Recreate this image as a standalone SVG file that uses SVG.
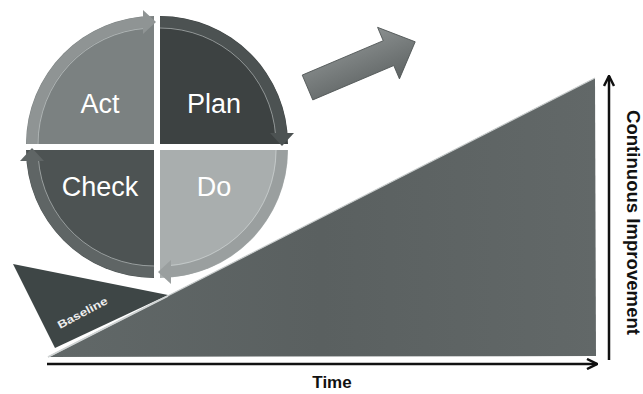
<svg xmlns="http://www.w3.org/2000/svg" width="643" height="394" viewBox="0 0 643 394">
  <style>
    .lbl { font-family: "Liberation Sans", Arial, sans-serif; font-size: 27px; fill: #ffffff; text-anchor: middle; }
    .axis { font-family: "Liberation Sans", Arial, sans-serif; font-weight: bold; fill: #111111; }
    .ring { fill: none; stroke-width: 11; }
    .rim { fill: none; stroke: #d8dcdc; stroke-width: 0.8; opacity: 0.7; }
    .axisline { stroke: #111111; stroke-width: 2.5; fill: none; }
  </style>
  <defs>
    <linearGradient id="triGrad" x1="0" y1="0" x2="1" y2="0">
      <stop offset="0" stop-color="#616868"/>
      <stop offset="0.5" stop-color="#5a6060"/>
      <stop offset="1" stop-color="#626868"/>
    </linearGradient>
    <linearGradient id="arrowGrad" x1="0" y1="0" x2="0" y2="1">
      <stop offset="0" stop-color="#8a8f8f"/>
      <stop offset="1" stop-color="#5f6464"/>
    </linearGradient>
    <marker id="ah" viewBox="0 0 10 10" refX="9" refY="5" markerWidth="5" markerHeight="5" orient="auto" markerUnits="strokeWidth">
      <path d="M1,1 L9,5 L1,9" fill="none" stroke="#111111" stroke-width="2"/>
    </marker>
  </defs>

  <rect width="643" height="394" fill="#ffffff"/>

  <!-- Big improvement triangle -->
  <g id="improvement">
    <polygon points="48,357 595,78 596,356" fill="url(#triGrad)"/>
    <line x1="48" y1="357" x2="595" y2="78" stroke="#c8cccc" stroke-width="1.2"/>
  </g>

  <!-- Baseline triangle -->
  <g id="baseline">
    <polygon points="13,264 168,295 55,348" fill="#3e4646"/>
    <line x1="48" y1="357" x2="168" y2="296" stroke="#d0d4d4" stroke-width="1.5"/>
    <text x="0" y="0" transform="translate(60,329) rotate(-28)" font-family="'Liberation Sans', Arial, sans-serif" font-weight="bold" font-size="11" fill="#eeeeee" textLength="55" lengthAdjust="spacingAndGlyphs">Baseline</text>
  </g>

  <!-- PDCA cycle -->
  <g id="act">
    <g transform="translate(157,147) rotate(0) translate(-3,-3)">
      <path d="M0,0 L-128,0 A128,128 0 0 1 0,-128 Z" fill="#7b8181"/>
      <path class="ring" d="M-122,0 A122,122 0 0 1 -9,-121.7" stroke="#8f9494"/>
      <path class="rim" d="M-116,0 A116,116 0 0 1 -8,-115.7"/>
      <polygon points="-11,-134 2,-122 -11,-110" fill="#8f9494"/>
    </g>
    <text class="lbl" x="100" y="113">Act</text>
  </g>
  <g id="plan">
    <g transform="translate(157,147) rotate(90) translate(-3,-3)">
      <path d="M0,0 L-128,0 A128,128 0 0 1 0,-128 Z" fill="#3d4242"/>
      <path class="ring" d="M-122,0 A122,122 0 0 1 -9,-121.7" stroke="#4c5252"/>
      <path class="rim" d="M-116,0 A116,116 0 0 1 -8,-115.7"/>
      <polygon points="-11,-134 2,-122 -11,-110" fill="#4c5252"/>
    </g>
    <text class="lbl" x="214" y="113">Plan</text>
  </g>
  <g id="do">
    <g transform="translate(157,147) rotate(180) translate(-3,-3)">
      <path d="M0,0 L-128,0 A128,128 0 0 1 0,-128 Z" fill="#a9aeae"/>
      <path class="ring" d="M-122,0 A122,122 0 0 1 -9,-121.7" stroke="#9a9f9f"/>
      <path class="rim" d="M-116,0 A116,116 0 0 1 -8,-115.7"/>
      <polygon points="-11,-134 2,-122 -11,-110" fill="#9a9f9f"/>
    </g>
    <text class="lbl" x="214" y="196">Do</text>
  </g>
  <g id="check">
    <g transform="translate(157,147) rotate(270) translate(-3,-3)">
      <path d="M0,0 L-128,0 A128,128 0 0 1 0,-128 Z" fill="#4d5353"/>
      <path class="ring" d="M-122,0 A122,122 0 0 1 -9,-121.7" stroke="#5f6565"/>
      <path class="rim" d="M-116,0 A116,116 0 0 1 -8,-115.7"/>
      <polygon points="-11,-134 2,-122 -11,-110" fill="#5f6565"/>
    </g>
    <text class="lbl" x="100" y="196">Check</text>
  </g>

  <!-- Block arrow -->
  <g id="block-arrow">
    <polygon transform="translate(307.5,87.5) rotate(-23)" points="0,-13.5 88,-13.5 88,-28 117,0 88,28 88,13.5 0,13.5" fill="url(#arrowGrad)" stroke="#4f5454" stroke-width="0.8"/>
  </g>

  <!-- Axes -->
  <g id="connectors">
    <line class="axisline" x1="47" y1="364" x2="597" y2="364" marker-end="url(#ah)"/>
    <line class="axisline" x1="609" y1="360" x2="609" y2="76" marker-end="url(#ah)"/>
  </g>

  <text class="axis" x="332" y="388" font-size="17" text-anchor="middle">Time</text>
  <text class="axis" x="0" y="0" font-size="18.5" transform="translate(627,110) rotate(90)" textLength="225" lengthAdjust="spacingAndGlyphs">Continuous Improvement</text>
</svg>
